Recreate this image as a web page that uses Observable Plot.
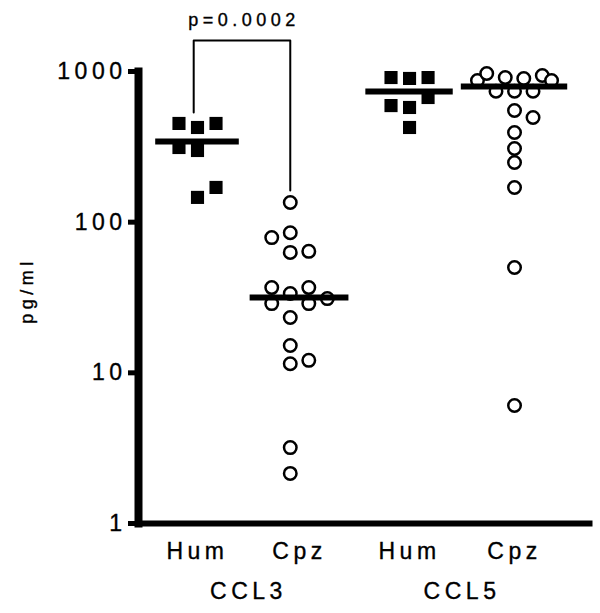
<!DOCTYPE html>
<html>
<head>
<meta charset="utf-8">
<script src="https://cdn.jsdelivr.net/npm/d3@7"></script>
<script src="https://cdn.jsdelivr.net/npm/@observablehq/plot@0.6"></script>
<style>
  body { margin: 0; background: #fff; }
  #chart svg text { stroke: #000; stroke-width: 0.35px; }
</style>
</head>
<body>
<div id="chart"></div>
<script>
// ---- data ----
const chemokines = ["CCL3", "CCL3", "CCL5", "CCL5"];
const species = ["Hum", "Cpz", "Hum", "Cpz"];
const groupLabels = ["CCL3", "CCL5"];
const yTicks = [1, 10, 100, 1000];

// pg/ml values per column (Hum = filled squares, Cpz = open circles)
const ccl3Hum = [452, 425, 452, 313, 299, 170, 146];
const ccl3HumJitter = [-1, 0, 1, -1, 0, 1, 0];
const ccl3Cpz = [135, 79, 85, 63, 64, 36.8, 28.8, 33.6, 36.8, 28.8, 31.1, 23.3, 15.2, 11.5, 12.1, 3.19, 2.15];
const ccl3CpzJitter = [-0.5, -1.5, -0.5, -0.5, 0.5, -1.5, -1.5, -0.5, 0.5, 0.5, 1.5, -0.5, -0.5, -0.5, 0.5, -0.5, -0.5];
const ccl5Hum = [912, 899, 912, 672, 594, 577, 425];
const ccl5HumJitter = [-1, 0, 1, 1, -1, 0, 0];
const ccl5Cpz = [871, 970, 740, 912, 740, 899, 740, 940, 871, 551, 495, 394, 308, 249, 170, 50, 6.07];
const ccl5CpzJitter = [-2, -1.5, -1, -0.5, 0, 0.5, 1, 1.5, 2, 0, 1, 0, 0, 0, 0, 0, 0];
const medians = [343, 31.6, 737, 795];

const pLabel = "p=0.0002";
const bracketValues = [534, 1607, 1607, 162];
const pLabelValue = 2000;
const yLabel = "pg/ml";

// ---- layout (column positions on a linear x scale) ----
const center = [1, 2.074, 3.232, 4.337];
const slot = 0.195;
const halfWidth = [0.44, 0.52, 0.46, 0.56];
const groupMid = [(center[0] + center[1]) / 2, (center[2] + center[3]) / 2];

const columns = [
  {values: ccl3Hum, jitter: ccl3HumJitter},
  {values: ccl3Cpz, jitter: ccl3CpzJitter},
  {values: ccl5Hum, jitter: ccl5HumJitter},
  {values: ccl5Cpz, jitter: ccl5CpzJitter}
];
const points = columns.flatMap((c, i) => c.values.map((v, j) => ({
  col: i, species: species[i], chemokine: chemokines[i],
  x: center[i] + c.jitter[j] * slot, y: v
})));
const medianRows = medians.map((m, i) => ({y: m, x1: center[i] - halfWidth[i], x2: center[i] + halfWidth[i]}));
const bracketX = [center[0] - 0.04, center[0] - 0.04, center[1] - 0.5 * slot, center[1] - 0.5 * slot];
const bracketRows = bracketValues.map((v, i) => ({x: bracketX[i], y: v}));

const chart = Plot.plot({
  width: 600,
  height: 613,
  marginTop: 71,
  marginBottom: 90,
  marginLeft: 138,
  marginRight: 8,
  style: {fontFamily: "'Liberation Sans', Arial, sans-serif", fontSize: "22px", letterSpacing: "4.5px", color: "black", background: "white"},
  x: {domain: [1 + (138 - 197) / 95, 1 + (592 - 197) / 95]},
  y: {type: "log", domain: [1, 1000]},
  marks: [
    Plot.frame({anchor: "bottom", strokeWidth: 6, stroke: "black", strokeLinecap: "butt"}),
    Plot.frame({anchor: "left", strokeWidth: 8, stroke: "black", strokeLinecap: "square"}),
    Plot.axisY({ticks: yTicks, tickFormat: d => String(d), tickSize: 10, tickPadding: 2, strokeWidth: 5, label: null, fontSize: 23}),
    Plot.axisX({ticks: center, tickFormat: d => species[center.indexOf(d)], tickSize: 0, tickPadding: 19, label: null, fontSize: 23}),
    Plot.axisX({ticks: groupMid, tickFormat: d => groupLabels[groupMid.indexOf(d)], tickSize: 0, tickPadding: 59, label: null, fontSize: 23}),
    Plot.text([yLabel], {text: d => d, frameAnchor: "left", textAnchor: "middle", rotate: -90, dx: -111, dy: -7, fontSize: 18}),
    Plot.dot(points.filter(d => d.species === "Hum"), {x: "x", y: "y", symbol: "square", r: 7.4, fill: "black"}),
    Plot.dot(points.filter(d => d.species === "Cpz"), {x: "x", y: "y", r: 6.25, stroke: "black", strokeWidth: 2.5, fill: "white"}),
    Plot.ruleY(medianRows, {y: "y", x1: "x1", x2: "x2", strokeWidth: 6, stroke: "black"}),
    Plot.line(bracketRows, {x: "x", y: "y", strokeWidth: 2, stroke: "black"}),
    Plot.text([pLabel], {text: d => d, x: (bracketX[0] + bracketX[2]) / 2, y: pLabelValue, lineAnchor: "bottom", fontSize: 18, dx: 2})
  ]
});
document.getElementById("chart").appendChild(chart);
</script>
</body>
</html>
